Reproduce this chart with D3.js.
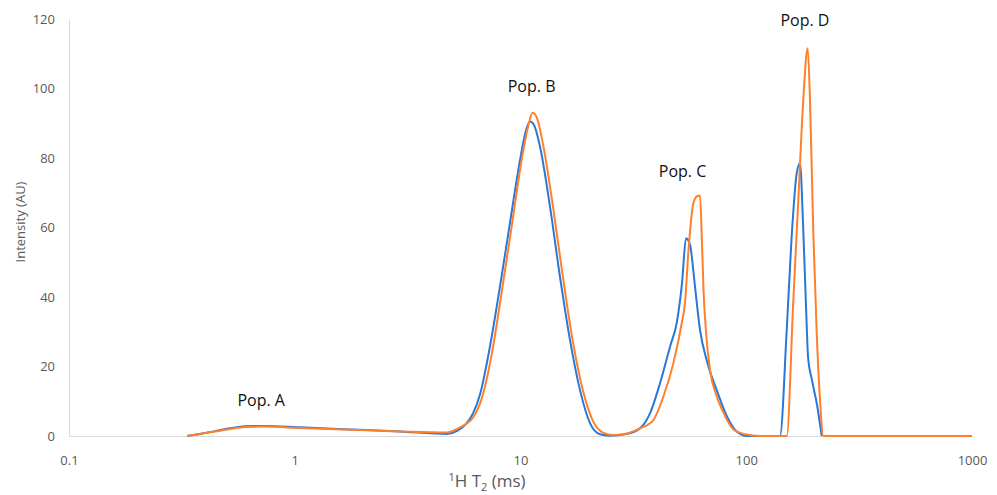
<!DOCTYPE html>
<html>
<head>
<meta charset="utf-8">
<script src="https://cdn.jsdelivr.net/npm/d3@7"></script>
<style>
  body { margin: 0; background: #fff; }
  text { font-family: "Open Sans", "Noto Sans", sans-serif; }
  .tick text { fill: #595959; font-size: 13px; }
  .axis-title { fill: #595959; font-size: 13px; }
  .pop_label { fill: #111; font-size: 16px; }
</style>
</head>
<body>
<div id="chart"></div>
<script>
// T2 (ms) and intensity (AU)
var blueT2 = [0.334, 0.38, 0.443, 0.517, 0.602, 0.738, 1.055, 1.757, 2.926, 4.71, 5.29, 5.74, 6.16, 6.62,
  7.32, 8.11, 8.98, 9.95, 10.58, 11.02, 11.48, 12.2, 13.51, 14.96, 16.57, 18.35, 20.32, 22.5, 24.92,
  29.03, 33.82, 37.46, 41.5, 45.95, 49.35, 51.93, 54.1, 56.35, 59.29, 62.4, 67.01, 74.21, 82.17, 91,
  100.8, 141.1, 151.1, 158.9, 167.3, 173, 178.9, 185.2, 187.7, 195.6, 205.8, 215.9];
var blueVal = [0, 0.6, 1.4, 2.2, 2.8, 2.9, 2.5, 1.9, 1.3, 0.6, 1.6, 3.5, 6.5, 12,
  25.7, 43, 61.3, 79.4, 88, 90.5, 89.5, 83.3, 66, 45.8, 27.6, 13.2, 3.7, 0.5, 0.1,
  0.5, 2.2, 6.5, 15.2, 25.7, 33, 44, 56.9, 55, 43, 30.5, 21.5, 13, 5.6, 1.2,
  0, 0, 30.5, 57.4, 75.6, 78.5, 59.3, 32, 23, 16, 9, 0];

var orangeT2 = [0.334, 0.38, 0.443, 0.517, 0.602, 0.738, 1.055, 1.757, 2.926, 4.71, 5.29, 5.74, 6.16, 6.75,
  7.48, 8.28, 9.17, 10.15, 10.8, 11.32, 11.83, 12.58, 13.93, 15.43, 17.08, 18.92, 20.95, 23.2, 25.69,
  29.03, 33.82, 38.76, 42.92, 47.53, 51.76, 53.54, 55.38, 58.29, 60.52, 62.4, 63.49, 64.67, 66.33, 69.09,
  73.45, 78.89, 87.36, 98.74, 115.1, 151.1, 161.6, 170.1, 178.9, 187.1, 191.6, 198.2, 205.2, 212.2, 219.5, 1000];
var orangeVal = [0, 0.6, 1.3, 2.0, 2.6, 2.7, 2.3, 1.8, 1.3, 1.0, 2.2, 3.5, 5.3, 11,
  24, 42, 61, 80, 89, 93, 91.5, 84, 66, 45.5, 27, 13, 4.3, 1, 0.3,
  0.6, 2.2, 4.6, 11.3, 20.9, 32.4, 38.3, 52.7, 67, 69, 69.2, 58, 42, 30, 19,
  12, 7, 2, 0.5, 0, 0, 39, 68, 96.7, 111.6, 96.7, 58.4, 29.6, 10.4, 0, 0];

var xTicks = [0.1, 1, 10, 100, 1000];
var yTicks = [0, 20, 40, 60, 80, 100, 120];

// label anchors (T2, intensity at text baseline)
var popNames = ['Pop. A', 'Pop. B', 'Pop. C', 'Pop. D'];
var popT2 = [0.71, 11.2, 52.2, 182];
var popVal = [8.6, 99, 74.5, 118];

var width = 997, height = 495;
var margin = {top: 19, right: 25, bottom: 59, left: 69};

var svg = d3.select('#chart').append('svg')
  .attr('width', width)
  .attr('height', height);

var x = d3.scaleLog()
  .domain([0.1, 1000])
  .range([margin.left, width - margin.right]);

var y = d3.scaleLinear()
  .domain([0, 120])
  .range([height - margin.bottom, margin.top]);

// axes
var gx = svg.append('g')
  .attr('transform', 'translate(0,' + y(0) + ')')
  .call(d3.axisBottom(x).tickValues(xTicks).tickSize(0).tickPadding(20)
    .tickFormat(function(d) { return d3.format('')(d); }));
gx.select('.domain').attr('stroke', '#d9d9d9');

var gy = svg.append('g')
  .attr('transform', 'translate(' + x(0.1) + ',0)')
  .call(d3.axisLeft(y).tickValues(yTicks).tickSize(0).tickPadding(14));
gy.select('.domain').attr('stroke', '#d9d9d9');

svg.selectAll('.tick text').attr('font-family', null);

// titles
var xt = svg.append('text')
  .attr('class', 'axis-title')
  .attr('x', 487).attr('y', 487)
  .attr('text-anchor', 'middle')
  .style('font-size', '17px');
xt.append('tspan').attr('font-size', '11px').attr('dy', '-6').text('1');
xt.append('tspan').attr('dy', '6').text('H T');
xt.append('tspan').attr('font-size', '11px').attr('dy', '4').text('2');
xt.append('tspan').attr('dy', '-4').text(' (ms)');

svg.append('text')
  .attr('class', 'axis-title')
  .attr('transform', 'translate(25,222)rotate(-90)')
  .attr('text-anchor', 'middle')
  .text('Intensity (AU)');

// lines
var line = d3.line()
  .x(function(d) { return x(d[0]); })
  .y(function(d) { return y(d[1]); })
  .curve(d3.curveMonotoneX);

var series = [
  {name: 'blue', color: '#2878d8', data: d3.zip(blueT2, blueVal)},
  {name: 'orange', color: '#ff7f2a', data: d3.zip(orangeT2, orangeVal)}
];

svg.selectAll('path.series')
  .data(series)
  .enter().append('path')
  .attr('class', 'series')
  .attr('d', function(d) { return line(d.data); })
  .attr('fill', 'none')
  .attr('stroke', function(d) { return d.color; })
  .attr('stroke-width', 2)
  .attr('stroke-linejoin', 'round');

// population labels
svg.selectAll('text.pop_label')
  .data(popNames)
  .enter().append('text')
  .attr('class', 'pop_label')
  .attr('text-anchor', 'middle')
  .attr('x', function(d, i) { return x(popT2[i]); })
  .attr('y', function(d, i) { return y(popVal[i]); })
  .text(function(d) { return d; });
</script>
</body>
</html>
